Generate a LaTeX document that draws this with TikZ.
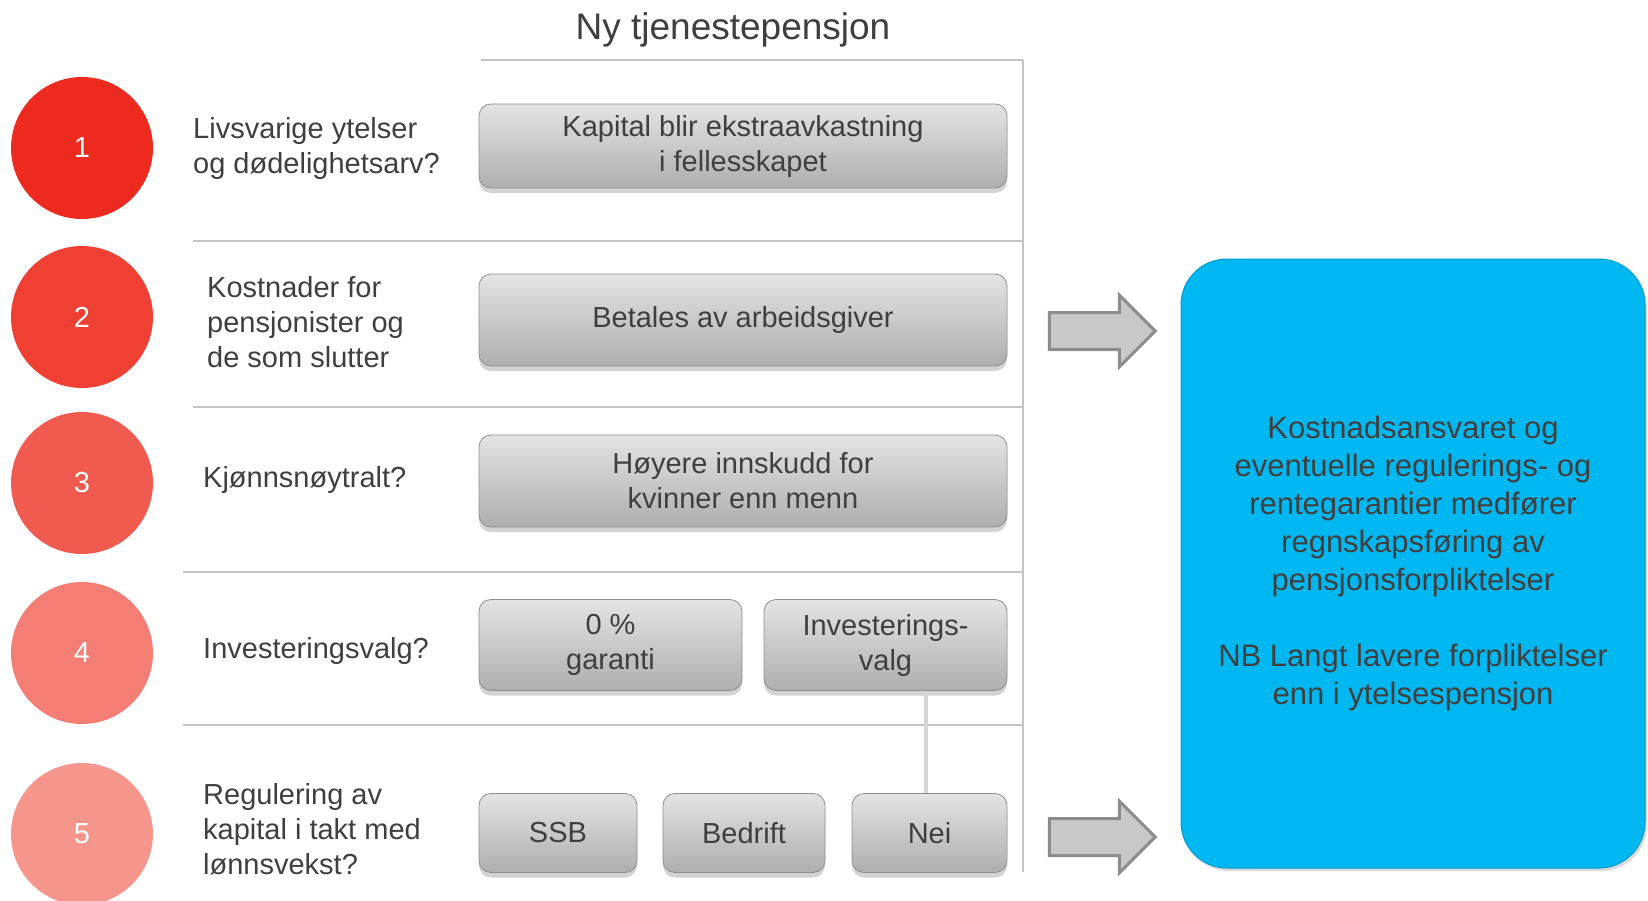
\documentclass[tikz,border=0pt]{standalone}
\usepackage{fontspec}
\setmainfont{Liberation Sans}
\usetikzlibrary{positioning, shapes.arrows, shadows}
\definecolor{txtgray}{HTML}{3F3F3F}
\definecolor{linegray}{HTML}{C4C4C4}
\definecolor{boxtop}{HTML}{E4E4E4}
\definecolor{boxbot}{HTML}{AEAEAE}
\definecolor{boxedge}{HTML}{8E8E8E}
\definecolor{numA}{HTML}{EE2A1E}
\definecolor{numB}{HTML}{F03F33}
\definecolor{numC}{HTML}{F15A4F}
\definecolor{numD}{HTML}{F47D74}
\definecolor{numE}{HTML}{F5958C}
\definecolor{resultblue}{HTML}{00B8F1}
\definecolor{arrowfill}{HTML}{C8C8C8}
\definecolor{arrowedge}{HTML}{8C8C8C}

\begin{document}
\begin{tikzpicture}[x=1pt, y=-1pt,
	num/.style={circle, minimum size=142pt, inner sep=0pt, text=white, font=\fontsize{29}{35}\selectfont},
	question/.style={anchor=west, align=left, text=txtgray, inner sep=0pt, font=\fontsize{29}{35}\selectfont},
	choice/.style={draw=boxedge, line width=0.8pt, rounded corners=12pt, top color=boxtop, bottom color=boxbot, text=txtgray, align=center, inner sep=0pt, font=\fontsize{29}{35}\selectfont, drop shadow={opacity=0.35, shadow xshift=0pt, shadow yshift=-5pt}},
	bigarrow/.style={single arrow, draw=arrowedge, line width=3pt, fill=arrowfill, inner xsep=0pt, inner ysep=17pt, single arrow head extend=17.5pt, single arrow tip angle=90, minimum height=106pt},
	sep/.style={draw=linegray, line width=2.5pt}]
	\useasboundingbox (0,0) rectangle (1648,900);

	\node[text=txtgray, font=\fontsize{37}{44}\selectfont] (title) at (733,30) {Ny tjenestepensjon};

	% rutenett
	\draw[sep] (481,60) -- (1023,60);
	\draw[sep] (193,241) -- (1023,241);
	\draw[sep] (193,407) -- (1023,407);
	\draw[sep] (183,572) -- (1023,572);
	\draw[sep] (183,725) -- (1023,725);
	\draw[sep] (1023,60) -- (1023,872);

	% nummer
	\node[num, fill=numA] (n1) at (82,148) {1};
	\node[num, fill=numB] (n2) at (82,317) {2};
	\node[num, fill=numC] (n3) at (82,483) {3};
	\node[num, fill=numD] (n4) at (82,653) {4};
	\node[num, fill=numE] (n5) at (82,834) {5};

	% spørsmål
	\node[question] (q1) at (193,148) {Livsvarige ytelser\\og dødelighetsarv?};
	\node[question] (q2) at (207,322) {Kostnader for\\pensjonister og\\de som slutter};
	\node[question] (q3) at (203,480) {Kjønnsnøytralt?};
	\node[question] (q4) at (203,651) {Investeringsvalg?};
	\node[question] (q5) at (203,829) {Regulering av\\kapital i takt med\\lønnsvekst?};

	% svar
	\node[choice, minimum width=528pt, minimum height=84pt] (a1) at (743,146) {Kapital blir ekstraavkastning\\i fellesskapet};
	\node[choice, minimum width=528pt, minimum height=92pt] (a2) at (743,320) {Betales av arbeidsgiver};
	\node[choice, minimum width=528pt, minimum height=92pt] (a3) at (743,481) {Høyere innskudd for\\kvinner enn menn};
	\node[choice, minimum width=263pt, minimum height=91pt] (a4a) at (610.5,645) {0 \%\\garanti};
	\node[choice, minimum width=243pt, minimum height=91pt] (a4b) at (885.5,645) {Investerings-\\valg};
	\node[choice, minimum width=158pt, minimum height=79pt] (ssb) at (558,833) {SSB};
	\node[choice, minimum width=162pt, minimum height=79pt] (bedrift) at (744,833) {Bedrift};
	\node[choice, minimum width=155pt, minimum height=79pt] (nei) at (929.5,833) {Nei};
	\draw[draw=linegray!70, line width=4pt] ([xshift=-4pt]nei.north) -- ([xshift=-4pt]nei.north |- a4b.south);

	% resultat
	\node[draw=resultblue!85!black, line width=1pt, fill=resultblue, rounded corners=46pt, minimum width=464pt, minimum height=609pt,
		text=txtgray, align=center, font=\fontsize{31}{38}\selectfont,
		drop shadow={opacity=0.3, shadow xshift=2pt, shadow yshift=-3pt}] (result) at (1413,563.5)
		{Kostnadsansvaret og\\eventuelle regulerings- og\\rentegarantier medfører\\regnskapsføring av\\pensjonsforpliktelser\\[38pt]NB Langt lavere forpliktelser\\enn i ytelsespensjon};

	\node[bigarrow] (arr1) at (1093,331) {};
	\node[bigarrow] (arr2) at (1093,837) {};
\end{tikzpicture}
\end{document}
